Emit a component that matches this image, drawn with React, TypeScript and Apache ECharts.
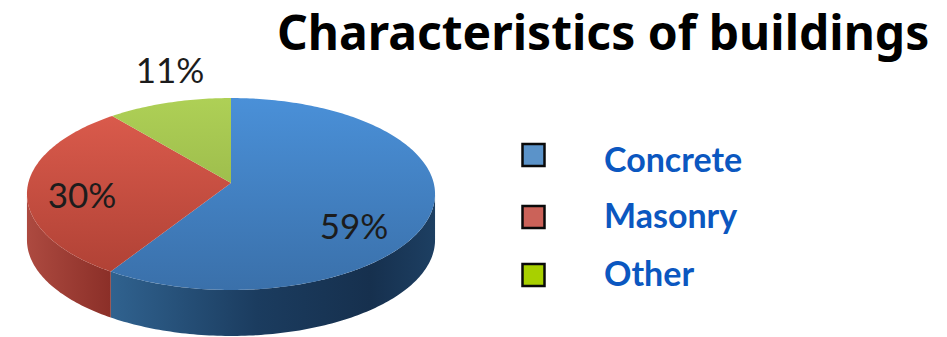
import React, { useEffect, useRef } from "react";
import * as echarts from "echarts";

const categories = ["Concrete", "Masonry", "Other"];
const shares = [59, 30, 11];
const chartTitle = "Characteristics of buildings";

// Perspective pie: a circle in the table plane projected onto the screen.
const CX = 231;
const CY = 183;
const DEPTH_PERSPECTIVE = 0.1146;
const RADIUS_X = 202.7;
const RADIUS_Y = 94.7;
const WALL_HEIGHT = 46;
const FACE_TOP = 98;
const FACE_BOTTOM = 290;

const faceStops = [
  ["#4a90d8", "#3a70aa"],
  ["#de5d4e", "#ac3f33"],
  ["#aed056", "#8ba741"],
];
const wallStops = [
  [
    [0, "#30628f"],
    [0.45, "#1b3c5f"],
    [0.8, "#16304e"],
    [1, "#1d3f62"],
  ],
  [
    [0, "#ad4a40"],
    [1, "#8b2f28"],
  ],
  [
    [0, "#8ba741"],
    [1, "#8ba741"],
  ],
];
const labelAnchors = [
  [354, 225],
  [82, 194],
  [170, 69],
];
const swatchColors = ["#5b93c9", "#cb6259", "#a8d000"];
const swatchTops = [144, 206, 264];
const legendTextCenters = [158, 214, 272];

function project(thetaDeg: number): [number, number] {
  const t = (thetaDeg * Math.PI) / 180;
  const u = Math.sin(t);
  const v = Math.cos(t);
  const w = 1 + DEPTH_PERSPECTIVE * v;
  return [CX + (RADIUS_X * u) / w, CY - (RADIUS_Y * v) / w];
}

function rim(from: number, to: number): [number, number][] {
  const pts: [number, number][] = [];
  const steps = Math.max(2, Math.ceil(Math.abs(to - from)));
  for (let i = 0; i <= steps; i++) pts.push(project(from + ((to - from) * i) / steps));
  return pts;
}

function renderSlice(params: any, api: any) {
  const i = params.dataIndex;
  const total = shares.reduce((a, b) => a + b, 0);
  const before = shares.slice(0, i).reduce((a, b) => a + b, 0);
  const start = (before / total) * 360;
  const end = ((before + api.value(0)) / total) * 360;

  const children: any[] = [];
  // The visible part of the side wall lies on the near half of the rim.
  const wallFrom = Math.max(start, 96.6);
  const wallTo = Math.min(end, 263.4);
  if (wallTo > wallFrom) {
    const top = rim(wallFrom, wallTo);
    const bottom = top.map(([x, y]) => [x, y + WALL_HEIGHT]).reverse();
    const xs = top.map((p) => p[0]);
    children.push({
      type: "polygon",
      shape: { points: [...top, ...bottom] },
      style: {
        fill: {
          type: "linear",
          x: Math.min(...xs),
          y: 0,
          x2: Math.max(...xs),
          y2: 0,
          global: true,
          colorStops: wallStops[i].map(([offset, color]) => ({ offset, color })),
        },
      },
    });
  }
  children.push({
    type: "polygon",
    shape: { points: [[CX, CY], ...rim(start, end)] },
    style: {
      fill: {
        type: "linear",
        x: 0,
        y: FACE_TOP,
        x2: 0,
        y2: FACE_BOTTOM,
        global: true,
        colorStops: [
          { offset: 0, color: faceStops[i][0] },
          { offset: 1, color: faceStops[i][1] },
        ],
      },
    },
  });
  children.push({
    type: "text",
    z2: 10,
    style: {
      x: labelAnchors[i][0],
      y: labelAnchors[i][1],
      text: `${api.value(0)}%`,
      fill: "#1c1c1c",
      font: "35px Lato",
      align: "center",
      verticalAlign: "middle",
    },
  });
  return { type: "group", children };
}

export default function App() {
  const ref = useRef<HTMLDivElement>(null);
  useEffect(() => {
    const chart = echarts.init(ref.current!, null, { renderer: "svg" });
    chart.setOption({
      animation: false,
      backgroundColor: "#ffffff",
      series: [
        {
          type: "custom",
          coordinateSystem: "none",
          data: shares.map((v, i) => ({ name: categories[i], value: [v] })),
          renderItem: renderSlice,
        },
      ],
      graphic: [
        {
          type: "text",
          x: 277,
          y: 31,
          style: {
            text: chartTitle,
            font: 'bold 48px "Noto Sans"',
            fill: "#000000",
            verticalAlign: "middle",
          },
        },
        ...categories.flatMap((name, i) => [
          {
            type: "rect",
            shape: { x: 522.5, y: swatchTops[i], width: 22, height: 22 },
            style: { fill: swatchColors[i], stroke: "#0a0a0a", lineWidth: 2.5 },
          },
          {
            type: "text",
            x: 604,
            y: legendTextCenters[i],
            style: {
              text: name,
              font: "bold 34px Lato",
              fill: "#0b57c0",
              verticalAlign: "middle",
            },
          },
        ]),
      ],
    });
    return () => chart.dispose();
  }, []);
  return (
    <div
      ref={ref}
      style={{ position: "absolute", left: 0, top: 0, width: 947, height: 337 }}
    />
  );
}
